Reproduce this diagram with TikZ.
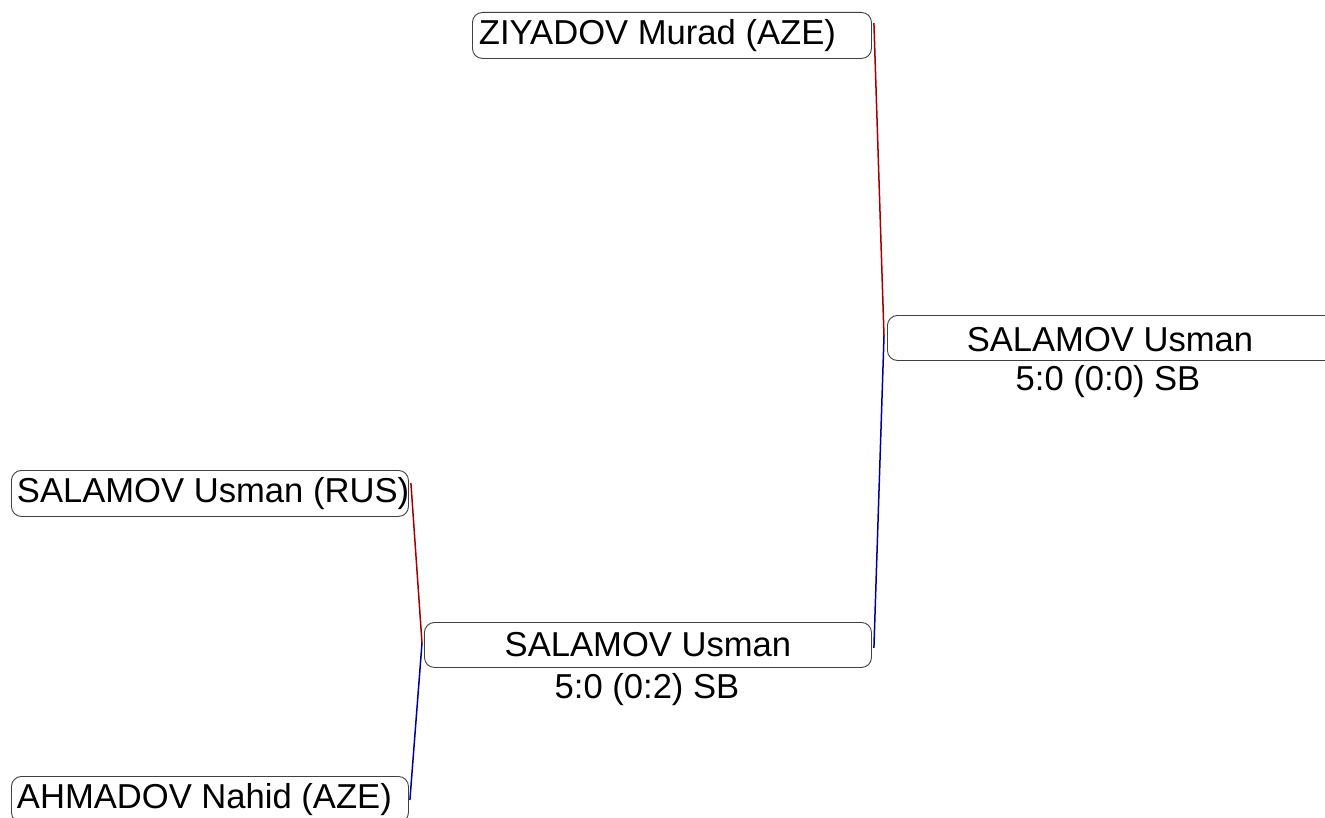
\documentclass[tikz,border=0pt]{standalone}
\usepackage{fontspec}
\setmainfont{Liberation Sans}
\usetikzlibrary{calc}
\definecolor{lred}{RGB}{160,0,0}
\definecolor{lblue}{RGB}{0,0,150}
\newcommand{\lefttext}[1]{\makebox[386bp][l]{#1}}
\tikzset{
  competitor/.style={draw=black!75, line width=0.9bp, rounded corners=10bp, anchor=north west,
    minimum height=46bp, inner xsep=5bp, inner ysep=0bp,
    font=\fontsize{34.6bp}{40bp}\selectfont},
  winner/.style={draw=black!75, line width=0.9bp, rounded corners=10bp, anchor=north west,
    minimum height=45bp, inner sep=0bp, font=\fontsize{34.6bp}{40bp}\selectfont},
  score/.style={inner sep=0bp, font=\fontsize{34.6bp}{40bp}\selectfont},
  redline/.style={draw=lred, line width=1.5bp},
  blueline/.style={draw=lblue, line width=1.5bp}
}
\begin{document}
\begin{tikzpicture}[x=1bp,y=-1bp]
\useasboundingbox (0,0) rectangle (1325,817);
\node[competitor, minimum width=399bp] (ziy) at (472,12) {\lefttext{ZIYADOV Murad (AZE)}};
\node[competitor, minimum width=397bp] (rus) at (11,470) {\lefttext{SALAMOV Usman (RUS)}};
\node[competitor, minimum width=397bp] (aze) at (11,776) {\lefttext{AHMADOV Nahid (AZE)}};
\node[winner, minimum width=447bp] (m1) at (424,622) {SALAMOV Usman};
\node[score] (s1) at (647,690) {5:0 (0:2) SB};
\node[winner, minimum width=460bp] (f1) at (887,315) {};
\node[score] (f1t) at (1110,340) {SALAMOV Usman};
\node[score] (s2) at (1108,382) {5:0 (0:0) SB};
\coordinate (jl) at ($(m1.west)+(-2,-2)$);
\coordinate (jr) at ($(f1.west)+(-3,-2)$);
\draw[redline] ($(rus.north east)+(2,13)$) -- (jl);
\draw[blueline] (jl) -- ($(aze.north east)+(1,24)$);
\draw[redline] ($(ziy.north east)+(2,11)$) -- (jr);
\draw[blueline] (jr) -- ($(m1.east)+(2,3)$);
\end{tikzpicture}
\end{document}
